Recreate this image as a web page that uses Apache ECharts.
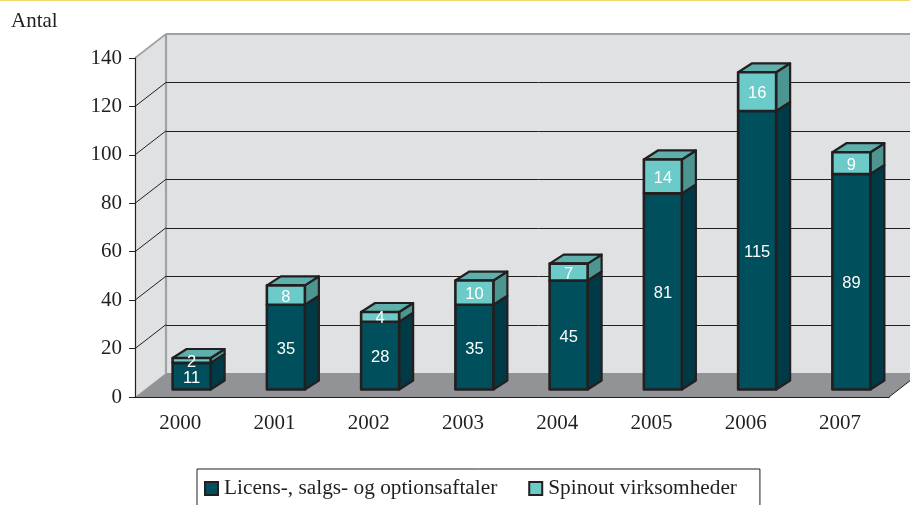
<!DOCTYPE html>
<html><head><meta charset="utf-8">
<style>html,body{margin:0;padding:0;background:#fff}#c{width:910px;height:505px}</style>
<script src="https://cdn.jsdelivr.net/npm/echarts@6/dist/echarts.min.js"></script>
</head><body><div id="c"></div>
<script>
const categories = ['2000','2001','2002','2003','2004','2005','2006','2007'];
const licenser = [11,35,28,35,45,81,115,89];
const spinout = [2,8,4,10,7,14,16,9];
const yTicks = [0,20,40,60,80,100,120,140];
const serif = '"Liberation Serif","Times New Roman",serif';
const ink = '#231f20';
const WALL = {dx:31, dy:-24};
const BAR = {ox:9.5, oy:-7.5, w:38, dx:14, dy:-9};

function poly(points, fill, stroke, lw){
  return {type:'polygon', shape:{points}, style:{fill, stroke:stroke||'none', lineWidth:lw||0, lineJoin:'round'}};
}
function line(a,b,color,lw){
  return {type:'line', shape:{x1:a[0],y1:a[1],x2:b[0],y2:b[1]}, style:{stroke:color,lineWidth:lw}};
}
function wallItem(params, api){
  const v = api.value(0);
  const rect = params.coordSys;
  const L = rect.x, R = rect.x + rect.width;
  const y = api.coord([0,v])[1];
  const kids = [];
  if (params.dataIndex === 0) {
    const top = api.coord([0,yTicks[yTicks.length-1]])[1];
    kids.push(poly([[L,top],[L+WALL.dx,top+WALL.dy],[R+WALL.dx,top+WALL.dy],[R+WALL.dx,y+WALL.dy],[L+WALL.dx,y+WALL.dy],[L,y]],'#e0e1e3'));
    kids.push(poly([[L,y],[L+WALL.dx,y+WALL.dy],[R+WALL.dx,y+WALL.dy],[R,y]],'#929396'));
    kids.push(line([L+WALL.dx,top+WALL.dy],[L+WALL.dx,y+WALL.dy],'#a0a1a3',2.2));
    kids.push(line([L,top],[L+WALL.dx,top+WALL.dy],'#a0a1a3',1.6));
    kids.push(line([L+WALL.dx,top+WALL.dy],[R+WALL.dx,top+WALL.dy],'#a0a1a3',2));
    kids.push(line([R,y],[R+WALL.dx,y+WALL.dy],ink,1));
  } else if (v < yTicks[yTicks.length-1]) {
    const yb = Math.round(y+WALL.dy)+0.5;
    kids.push(line([L,y],[L+WALL.dx,y+WALL.dy],ink,1));
    kids.push(line([L+WALL.dx,yb],[R+WALL.dx,yb],ink,1));
  }
  return {type:'group', children:kids};
}
function barItem(front, side, top, showTop){
  return function(params, api){
    const i = api.value(0), base = api.value(1), val = api.value(2);
    const c0 = api.coord([i, base]), c1 = api.coord([i, base + val]);
    const xL = c0[0] + BAR.ox - BAR.w/2, xR = xL + BAR.w;
    const y0 = c0[1] + BAR.oy, y1 = c1[1] + BAR.oy;
    const d = [BAR.dx, BAR.dy];
    const kids = [
      poly([[xR,y0],[xR+d[0],y0+d[1]],[xR+d[0],y1+d[1]],[xR,y1]], side, ink, 2.2)
    ];
    if (showTop) kids.push(poly([[xL,y1],[xL+d[0],y1+d[1]],[xR+d[0],y1+d[1]],[xR,y1]], top, ink, 2.2));
    kids.push(poly([[xL,y0],[xR,y0],[xR,y1],[xL,y1]], front, ink, 2.6));
    kids.push({type:'text', z2:10, style:{text:String(val), x:(xL+xR)/2, y:(y0+y1)/2+2, fill:'#fff',
      font:'16.5px "Liberation Sans",Arial,sans-serif', align:'center', verticalAlign:'middle'}});
    return {type:'group', children:kids};
  };
}
const dataA = licenser.map((v,i)=>[i,0,v]);
const dataB = spinout.map((v,i)=>[i,licenser[i],v]);
const chart = echarts.init(document.getElementById('c'), null, {renderer:'canvas'});
chart.setOption({
  animation:false,
  backgroundColor:'#fff',
  textStyle:{fontFamily:serif},
  graphic:[
    {type:'rect', shape:{x:0,y:0,width:910,height:1}, style:{fill:'#f3d86b'}},
    {type:'text', left:11, top:11, style:{text:'Antal', font:'21px '+serif, fill:ink}}
  ],
  grid:{left:135, right:21, top:58, bottom:108},
  xAxis:{type:'category', data:categories, boundaryGap:true,
    axisLine:{lineStyle:{color:ink,width:1.2}}, axisTick:{length:7,lineStyle:{color:ink,width:1}},
    axisLabel:{color:ink,fontSize:21,margin:15.5,fontFamily:serif,padding:[0,4,0,0]}, z:5},
  yAxis:{type:'value', min:0, max:140, interval:20,
    axisLine:{show:true,lineStyle:{color:ink,width:1.2}}, axisTick:{show:true,length:6,lineStyle:{color:ink,width:1}},
    splitLine:{show:false},
    axisLabel:{color:ink,fontSize:21,margin:13,fontFamily:serif,padding:[5,0,0,0]}, z:5},
  legend:{data:['Licens-, salgs- og optionsaftaler','Spinout virksomheder'], left:197, top:469,
    orient:'horizontal', borderColor:ink, borderWidth:1, padding:[9,23,8,7], itemGap:31,
    itemWidth:13, itemHeight:13, icon:'rect', selectedMode:false,
    textStyle:{fontSize:21.3,color:ink,fontFamily:serif,padding:[0,0,0,1]}},
  series:[
    {type:'custom', name:'walls', silent:true, z:1, clip:false, data:yTicks.map(v=>[v]),
     encode:{y:0}, renderItem:wallItem},
    {type:'custom', name:'Licens-, salgs- og optionsaftaler', z:3, clip:false, data:dataA,
     encode:{x:0,y:2}, renderItem:barItem('#004f5d','#003a47','#004f5d',false),
     itemStyle:{color:'#004f5d',borderColor:ink,borderWidth:2}},
    {type:'custom', name:'Spinout virksomheder', z:4, clip:false, data:dataB,
     encode:{x:0,y:2}, renderItem:barItem('#6ccac8','#4d9591','#5fb0ad',true),
     itemStyle:{color:'#6ccac8',borderColor:ink,borderWidth:2}}
  ]
});
</script></body></html>
